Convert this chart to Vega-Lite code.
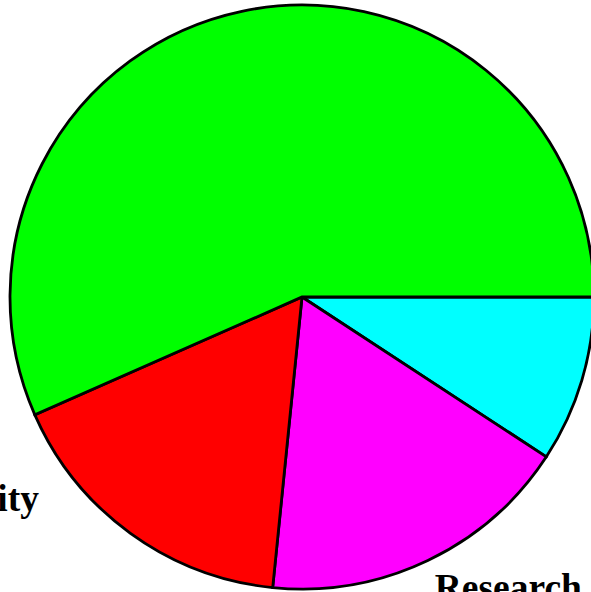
{
  "$schema": "https://vega.github.io/schema/vega-lite/v6.json",
  "width": 578,
  "height": 590,
  "autosize": "none",
  "padding": {"left": 13, "top": 2, "right": 0, "bottom": 0},
  "background": "white",
  "data": {
    "values": [
      {"category": "Government", "share": 9.22, "order": 1},
      {"category": "Research", "share": 17.38, "order": 2},
      {"category": "University", "share": 16.79, "order": 3},
      {"category": "Industry", "share": 56.61, "order": 4}
    ]
  },
  "encoding": {
    "theta": {"field": "share", "type": "quantitative", "stack": true, "scale": {"range": [1.5707963, 7.8539816]}},
    "order": {"field": "order", "type": "quantitative"},
    "color": {
      "field": "category",
      "type": "nominal",
      "scale": {"domain": ["Government", "Research", "University", "Industry"], "range": ["#00ffff", "#ff00ff", "#ff0000", "#00ff00"]},
      "legend": null
    }
  },
  "layer": [
    {"mark": {"type": "arc", "outerRadius": 292, "stroke": "black", "strokeWidth": 2.8}},
    {
      "mark": {"type": "text", "radius": 322, "align": "left", "baseline": "middle", "font": "Liberation Serif", "fontWeight": "bold", "fontSize": 37.5, "dx": -6, "dy": 1},
      "encoding": {
        "text": {"condition": {"test": "datum.category === 'Research'", "field": "category"}, "value": ""},
        "color": {"value": "black"}
      }
    },
    {
      "mark": {"type": "text", "radius": 332, "align": "right", "baseline": "middle", "font": "Liberation Serif", "fontWeight": "bold", "fontSize": 37.5, "dx": -68, "dy": -66},
      "encoding": {
        "text": {"condition": {"test": "datum.category === 'University'", "field": "category"}, "value": ""},
        "color": {"value": "black"}
      }
    }
  ]
}
